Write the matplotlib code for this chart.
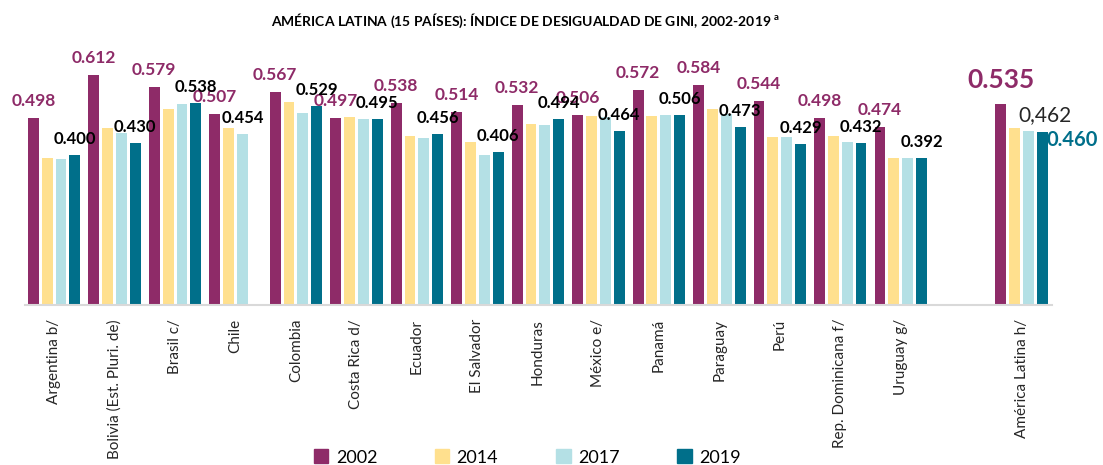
import numpy as np
import matplotlib.pyplot as plt
from matplotlib.patches import Patch

plt.rcParams['font.family'] = ['Lato', 'DejaVu Sans']

# Data
countries = ["Argentina b/", "Bolivia (Est. Pluri. de)", "Brasil c/", "Chile",
             "Colombia", "Costa Rica d/", "Ecuador", "El Salvador", "Honduras",
             "México e/", "Panamá", "Paraguay", "Perú", "Rep. Dominicana f/",
             "Uruguay g/", "América Latina h/"]
years = ["2002", "2014", "2017", "2019"]
g2002 = [0.498, 0.612, 0.579, 0.507, 0.567, 0.497, 0.538, 0.514, 0.532, 0.506,
         0.572, 0.584, 0.544, 0.498, 0.474, 0.535]
g2014 = [0.390, 0.471, 0.522, 0.472, 0.541, 0.499, 0.449, 0.434, 0.481, 0.502,
         0.502, 0.522, 0.447, 0.449, 0.392, 0.470]
g2017 = [0.388, 0.458, 0.534, 0.454, 0.512, 0.495, 0.444, 0.399, 0.479, 0.500,
         0.505, 0.507, 0.447, 0.433, 0.390, 0.462]
g2019 = [0.400, 0.430, 0.538, np.nan, 0.529, 0.495, 0.456, 0.406, 0.494, 0.464,
         0.506, 0.473, 0.429, 0.432, 0.392, 0.460]

colors = ["#8E2B68", "#FFE08E", "#B4E0E5", "#006F8A"]
series = [g2002, g2014, g2017, g2019]

# group positions: one empty slot before the regional average
pos = np.array(list(range(15)) + [16], dtype=float)
slot = 0.229
width = 0.18

fig = plt.figure(figsize=(11.03, 4.65), dpi=100)
ax = fig.add_axes([0.0227, 0.344, 0.931, 0.566])

for k, vals in enumerate(series):
    ax.bar(pos + (k - 1.5) * slot, vals, width=width, color=colors[k],
           edgecolor='none', zorder=2)

# value labels for the countries
for i in range(15):
    x0 = pos[i] - 1.5 * slot
    ax.annotate(f"{g2002[i]:.3f}", (x0, g2002[i]), xytext=(0, 9),
                textcoords='offset pixels', ha='center', va='bottom',
                fontsize=12.5, fontweight='bold', color="#8E2B68", zorder=3)
    # last available value in black
    if not np.isnan(g2019[i]):
        xl, vl = pos[i] + 1.5 * slot, g2019[i]
    else:
        xl, vl = pos[i] + 0.5 * slot, g2017[i]
    ax.annotate(f"{vl:.3f}", (xl, vl), xytext=(0, 8),
                textcoords='offset pixels', ha='center', va='bottom',
                fontsize=12, fontweight='bold', color="black", zorder=4)

# labels for the regional average
i = 15
ax.annotate(f"{g2002[i]:.3f}", (pos[i] - 1.5 * slot, g2002[i]), xytext=(0, 12),
            textcoords='offset pixels', ha='center', va='bottom',
            fontsize=19, fontweight='bold', color="#8E2B68")
ax.annotate(f"{g2017[i]:.3f}".replace('.', ','), (pos[i] + 0.5 * slot, g2017[i]),
            xytext=(-10, 6), textcoords='offset pixels', ha='left', va='bottom',
            fontsize=15, color="#262626")
ax.annotate(f"{g2019[i]:.3f}", (pos[i] + 1.5 * slot, g2019[i]), xytext=(4, -8),
            textcoords='offset pixels', ha='left', va='center',
            fontsize=14.5, fontweight='bold', color="#006F8A")

ax.set_xlim(-0.48, 16.5)
ax.set_ylim(0, 0.70)
ax.set_xticks(pos)
ax.set_xticklabels(countries, rotation=90, fontsize=11, color="#262626")
ax.tick_params(axis='x', length=0, pad=10)
ax.set_yticks([])
for s in ['top', 'right', 'left']:
    ax.spines[s].set_visible(False)
ax.spines['bottom'].set_color("#D9D9D9")
ax.spines['bottom'].set_linewidth(1.5)

fig.text(0.476, 0.955, "AMÉRICA LATINA (15 PAÍSES): ÍNDICE DE DESIGUALDAD DE GINI, 2002-2019 $^{\\mathregular{a}}$",
         ha='center', va='center', fontsize=10, fontweight='bold')

handles = [Patch(color=c) for c in colors]
fig.legend(handles, years, loc='center', bbox_to_anchor=(0.478, 0.016), ncol=4,
           frameon=False, fontsize=13, handlelength=0.8, handleheight=0.8,
           handletextpad=0.4, columnspacing=3.2)

fig.savefig("out.png", dpi=100)
